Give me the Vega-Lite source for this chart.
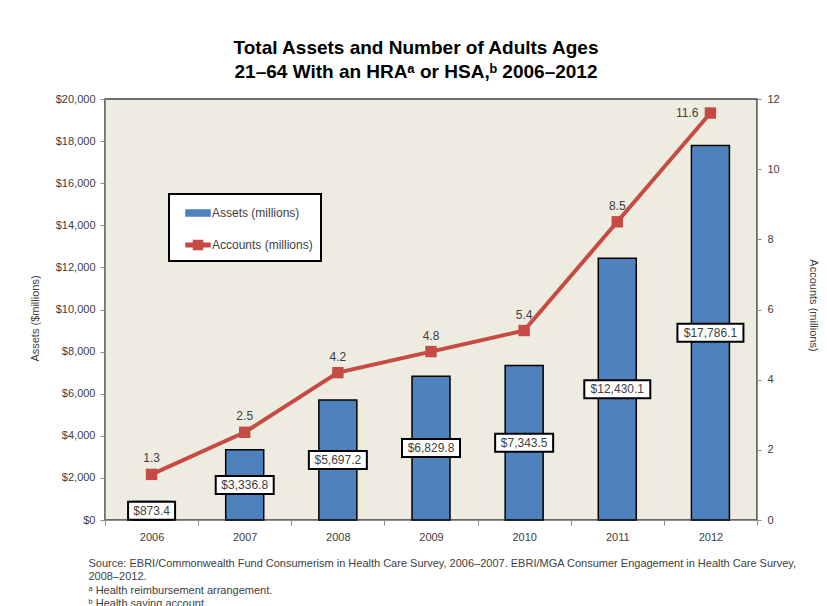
{
  "$schema": "https://vega.github.io/schema/vega-lite/v6.json",
  "width": 652,
  "height": 421,
  "autosize": {"type": "none"},
  "padding": {"left": 105, "top": 99, "right": 70, "bottom": 86},
  "background": "white",
  "config": {
    "view": {"fill": "#EEECE1", "stroke": "#404040", "strokeWidth": 1.5},
    "axis": {"grid": false, "domainColor": "#8C8C8C", "tickColor": "#8C8C8C", "labelColor": "#404040", "labelFont": "Liberation Sans", "labelFontSize": 11, "titleFont": "Liberation Sans", "titleFontWeight": "normal", "titleColor": "#404040", "titleFontSize": 11}
  },
  "title": {
    "text": ["Total Assets and Number of Adults Ages", "21–64 With an HRAᵃ or HSA,ᵇ 2006–2012"],
    "font": "Liberation Sans",
    "fontWeight": "bold",
    "fontSize": 19,
    "lineHeight": 24,
    "color": "#000000",
    "anchor": "middle",
    "dx": -15,
    "offset": 11
  },
  "data": {
    "values": [
      {"year": "2006", "assets": 873.4, "accounts": 1.3},
      {"year": "2007", "assets": 3336.8, "accounts": 2.5},
      {"year": "2008", "assets": 5697.2, "accounts": 4.2},
      {"year": "2009", "assets": 6829.8, "accounts": 4.8},
      {"year": "2010", "assets": 7343.5, "accounts": 5.4},
      {"year": "2011", "assets": 12430.1, "accounts": 8.5},
      {"year": "2012", "assets": 17786.1, "accounts": 11.6}
    ]
  },
  "encoding": {
    "x": {
      "field": "year",
      "type": "ordinal",
      "scale": {"paddingInner": 0, "paddingOuter": 0},
      "axis": {
        "labelAngle": 0,
        "tickBand": "extent",
        "tickSize": 5,
        "labelPadding": 6,
        "title": ["Source: EBRI/Commonwealth Fund Consumerism in Health Care Survey, 2006–2007. EBRI/MGA Consumer Engagement in Health Care Survey,", "2008–2012.", "ᵃ Health reimbursement arrangement.", "ᵇ Health saving account."],
        "titleFont": "Liberation Sans",
        "titleFontSize": 11,
        "titleLineHeight": 13.5,
        "titleAnchor": "start",
        "titleAlign": "left",
        "titleBaseline": "top",
        "titleX": -17,
        "titleY": 37,
        "titleColor": "#404040"
      }
    }
  },
  "layer": [
    {
      "layer": [
        {
          "mark": {"type": "bar", "width": 38, "stroke": "#000000", "strokeWidth": 1.5},
          "encoding": {
            "y": {
              "field": "assets",
              "type": "quantitative",
              "scale": {"domain": [0, 20000], "nice": false},
              "axis": {
                "values": [0, 2000, 4000, 6000, 8000, 10000, 12000, 14000, 16000, 18000, 20000],
                "format": "$,.0f",
                "tickSize": 5,
                "labelPadding": 5,
                "title": "Assets ($millions)",
                "titleX": -70,
                "titleY": 219,
                "titleBaseline": "middle"
              }
            },
            "color": {
              "datum": "Assets (millions)",
              "scale": {"domain": ["Assets (millions)", "Accounts (millions)"], "range": ["#4F81BD", "#C64B45"]},
              "legend": {
                "orient": "none",
                "legendX": 64,
                "legendY": 95,
                "title": null,
                "fillColor": "#FFFFFF",
                "strokeColor": "#000000",
                "padding": 8,
                "symbolOffset": 10,
                "symbolSize": 400,
                "rowPadding": 15,
                "labelOffset": 3,
                "labelFont": "Liberation Sans",
                "labelFontSize": 12,
                "labelColor": "#404040",
                "symbolStrokeWidth": 1.5,
                "encoding": {
                  "legend": {"strokeWidth": {"value": 2}},
                  "symbols": {
                    "shape": {"condition": {"test": "datum.value === 'Assets (millions)'", "value": "M-1.2,-0.3H1.2V0.3H-1.2Z"}, "value": "M-1.2,-0.18H-0.45V-0.45H0.45V-0.18H1.2V0.18H0.45V0.45H-0.45V0.18H-1.2Z"},
                    "fill": {"condition": {"test": "datum.value === 'Assets (millions)'", "value": "#4F81BD"}, "value": "#C64B45"},
                    "stroke": {"condition": {"test": "datum.value === 'Assets (millions)'", "value": "#000000"}, "value": "transparent"},
                    "strokeWidth": {"value": 1.5},
                    "opacity": {"value": 1},
                    "fillOpacity": {"value": 1}
                  }
                }
              }
            }
          }
        },
        {
          "transform": [{"calculate": "datum.assets / 2", "as": "mid"}],
          "mark": {"type": "tick", "thickness": 18, "fill": "#FFFFFF", "stroke": "#000000", "strokeWidth": 2, "opacity": 1},
          "encoding": {
            "y": {"field": "mid", "type": "quantitative"},
            "size": {
              "condition": [
                {"test": "datum.assets < 1000", "value": 47},
                {"test": "datum.assets < 10000", "value": 58}
              ],
              "value": 66
            }
          }
        },
        {
          "transform": [{"calculate": "datum.assets / 2", "as": "mid"}],
          "mark": {"type": "text", "font": "Liberation Sans", "fontSize": 12, "color": "#404040", "baseline": "middle"},
          "encoding": {
            "y": {"field": "mid", "type": "quantitative"},
            "text": {"field": "assets", "type": "quantitative", "format": "$,.1f"}
          }
        }
      ]
    },
    {
      "layer": [
        {
          "mark": {"type": "line", "strokeWidth": 4},
          "encoding": {
            "y": {
              "field": "accounts",
              "type": "quantitative",
              "scale": {"domain": [0, 12], "nice": false},
              "axis": {
                "orient": "right",
                "values": [0, 2, 4, 6, 8, 10, 12],
                "tickSize": 4,
                "labelPadding": 6,
                "title": "Accounts (millions)",
                "titleAngle": 90,
                "titleX": 55,
                "titleY": 206,
                "titleBaseline": "middle"
              }
            },
            "color": {"datum": "Accounts (millions)"}
          }
        },
        {
          "mark": {"type": "point", "shape": "square", "filled": true, "size": 130, "color": "#C64B45", "opacity": 1},
          "encoding": {
            "y": {"field": "accounts", "type": "quantitative"}
          }
        },
        {
          "transform": [{"filter": "datum.year !== '2012'"}],
          "mark": {"type": "text", "font": "Liberation Sans", "fontSize": 12, "color": "#404040", "dy": -16},
          "encoding": {
            "y": {"field": "accounts", "type": "quantitative"},
            "text": {"field": "accounts", "type": "quantitative", "format": ".1f"}
          }
        },
        {
          "transform": [{"filter": "datum.year === '2012'"}],
          "mark": {"type": "text", "font": "Liberation Sans", "fontSize": 12, "color": "#404040", "align": "right", "dx": -12, "dy": 0},
          "encoding": {
            "y": {"field": "accounts", "type": "quantitative"},
            "text": {"field": "accounts", "type": "quantitative", "format": ".1f"}
          }
        }
      ]
    }
  ],
  "resolve": {"scale": {"y": "independent"}}
}
